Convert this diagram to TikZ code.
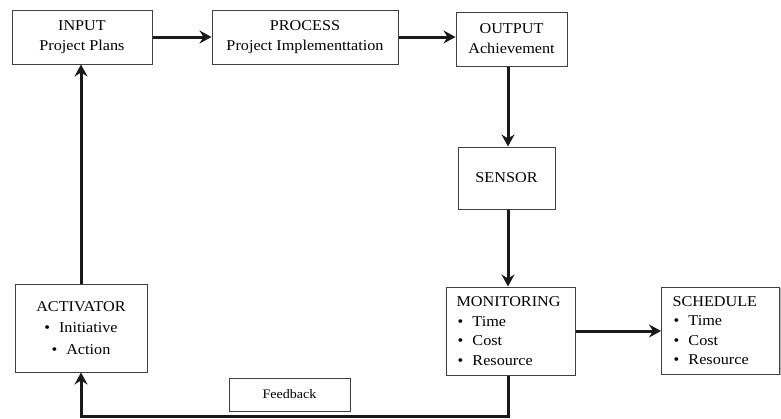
\documentclass[tikz,border=0pt]{standalone}
\usepackage{fontspec}
\setmainfont[FakeStretch=1.08]{Liberation Serif}
\usetikzlibrary{arrows.meta,shadows}
\tikzset{
  box/.style={draw=black!75, line width=1pt, fill=white, inner sep=0pt,
    drop shadow={shadow xshift=1.2pt, shadow yshift=-1.2pt, fill=black!30, opacity=1},
    font=\fontsize{15}{20}\selectfont},
  arr/.style={line width=3pt, draw=black!90, -{Stealth[length=12pt,width=13pt,inset=4pt]}},
}
\newcommand{\bul}{\hspace{1pt}\makebox[15pt][l]{\textbullet}}
\begin{document}
\begin{tikzpicture}[x=1pt,y=-1pt]
\useasboundingbox (0,0) rectangle (781,418);
\node[box, minimum width=140pt, minimum height=54pt, align=center] (input) at (82,37) {INPUT\\Project Plans};
\node[box, minimum width=186pt, minimum height=54pt, align=center] (process) at (305,37) {PROCESS\\Project Implementtation};
\node[box, minimum width=111pt, minimum height=54pt, align=center] (output) at (511.5,39) {OUTPUT\\Achievement};
\node[box, minimum width=97pt, minimum height=62pt] (sensor) at (506.5,178) {SENSOR};
\node[box, minimum width=129pt, minimum height=88pt, text width=108pt, inner xsep=10.5pt, align=left,
  font=\fontsize{15}{19.5}\selectfont] (monitor) at (510.5,331)
  {MONITORING\\\bul Time\\\bul Cost\\\bul Resource};
\node[box, minimum width=118pt, minimum height=87pt, text width=96pt, inner xsep=10.5pt, align=left,
  font=\fontsize{15}{19.5}\selectfont] (schedule) at (720.5,330.5)
  {SCHEDULE\\\bul Time\\\bul Cost\\\bul Resource};
\node[box, minimum width=132pt, minimum height=88pt, align=center,
  font=\fontsize{15}{21.5}\selectfont] (activator) at (81,328)
  {ACTIVATOR\\\textbullet\hspace{9pt}Initiative\\\textbullet\hspace{9pt}Action};
\node[box, minimum width=121pt, minimum height=33pt, font=\fontsize{13}{16}\selectfont] (feedback) at (289.5,394.5) {Feedback};
\coordinate (vx) at (508,0);
\coordinate (corner1) at (508,416);
\coordinate (corner2) at (81,416);
\draw[arr] (input.east) -- (process.west);
\draw[arr] (process.east) -- (process.east -| output.west);
\draw[arr] (vx |- output.south) -- (vx |- sensor.north);
\draw[arr] (vx |- sensor.south) -- (vx |- monitor.north);
\draw[arr] (monitor.east |- 0,331) -- (schedule.west |- 0,331);
\draw[arr] (vx |- monitor.south) -- (corner1) -- (corner2) -- (activator.south);
\draw[arr] (activator.north) -- (input.south -| activator.north);
\end{tikzpicture}
\end{document}
